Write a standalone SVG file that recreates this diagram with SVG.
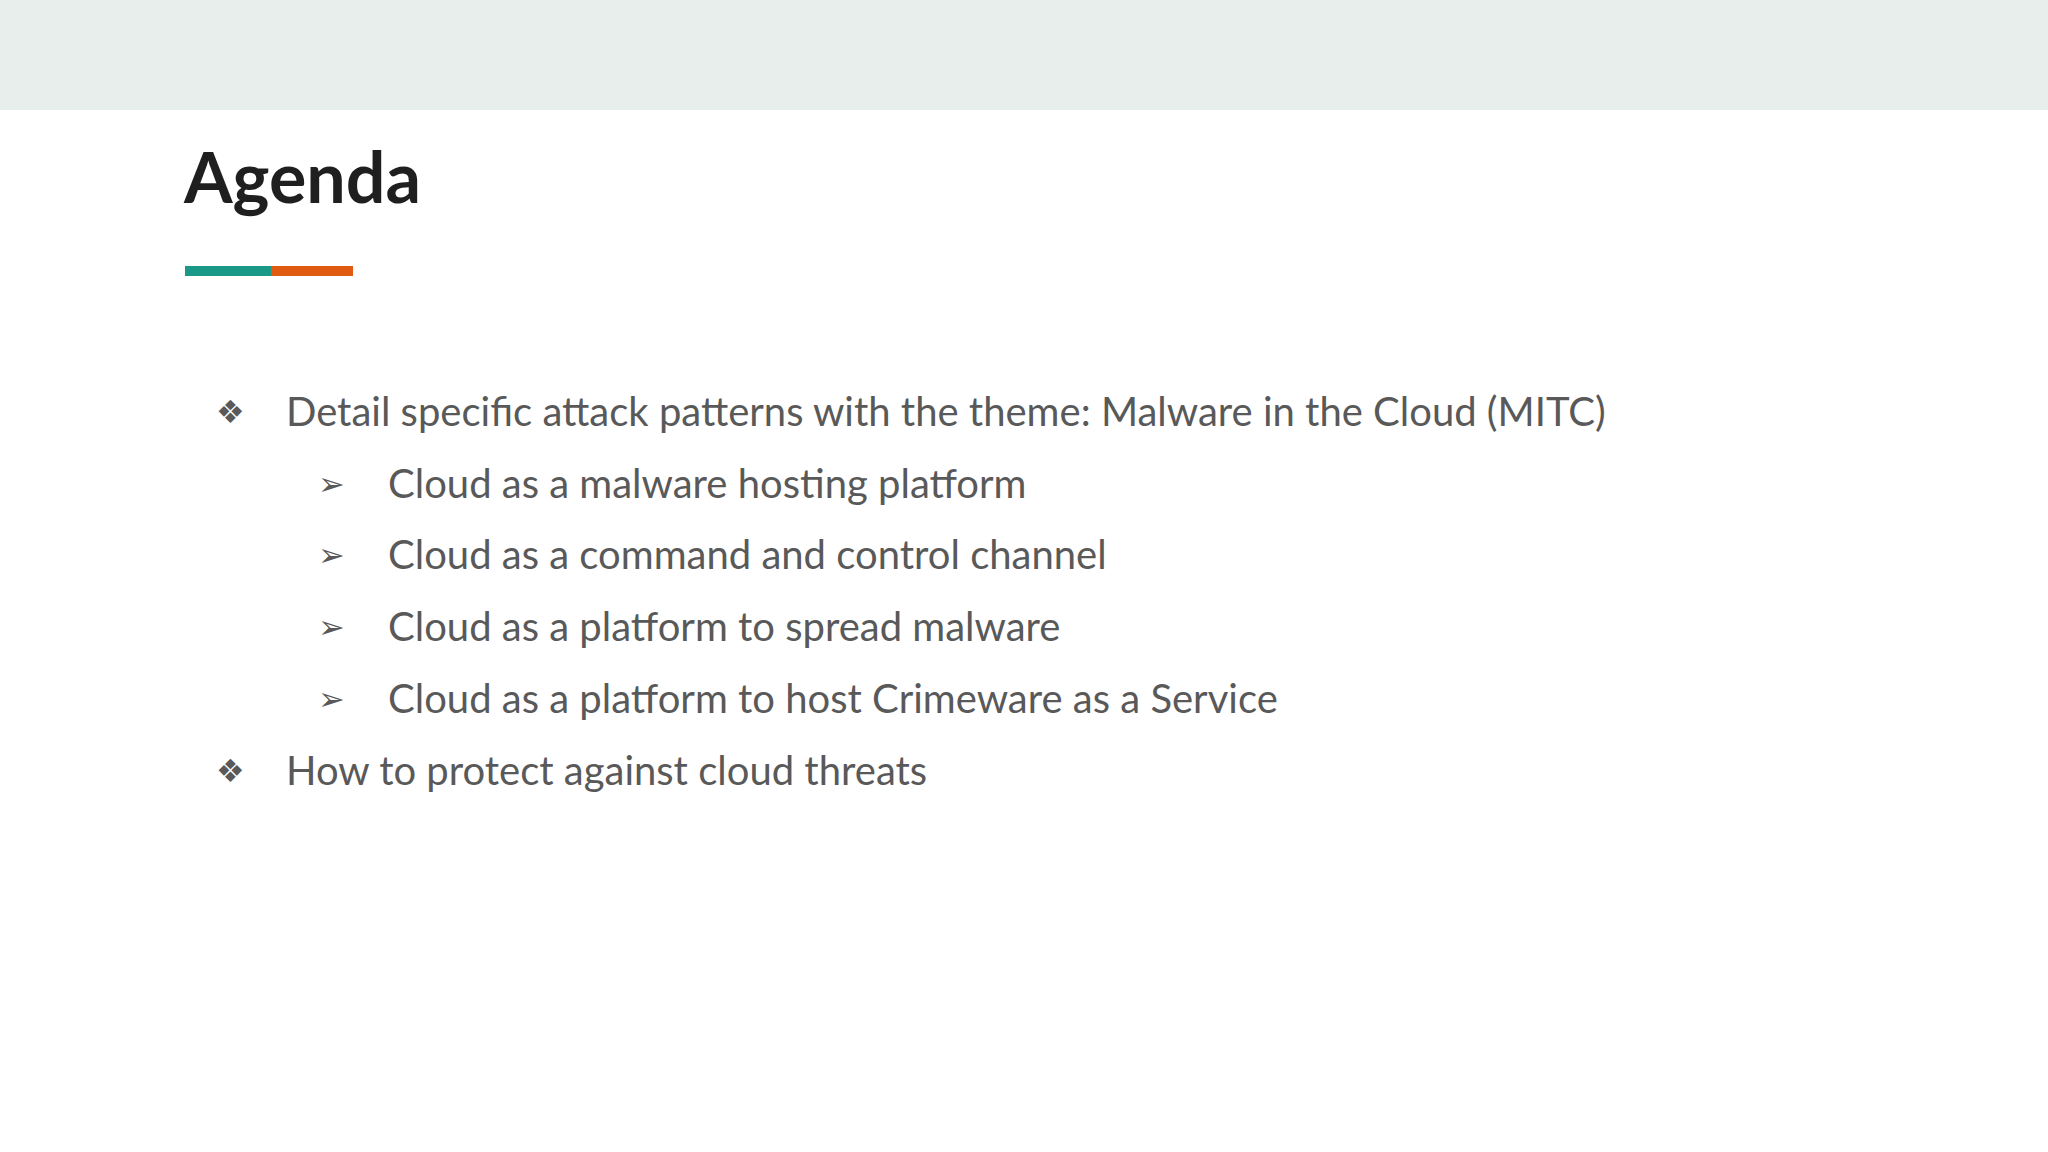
<svg xmlns="http://www.w3.org/2000/svg" width="2048" height="1152" viewBox="0 0 2048 1152">
<style>
.t{font-family:Lato,"Liberation Sans",sans-serif;font-size:40px;fill:#595959}
.g{font-family:"DejaVu Sans",sans-serif;font-size:32px;fill:#595959}
</style>
<rect width="2048" height="1152" fill="#ffffff"/>
<rect width="2048" height="110" fill="#e8eeec"/>
<g id="title"><text x="184" y="203" font-family="Lato,'Liberation Sans',sans-serif" font-weight="bold" font-size="70" fill="#1f1f1f">Agenda</text>
<rect x="185" y="266" width="86" height="10" fill="#1a9988"/><rect x="271" y="266" width="82" height="10" fill="#e05a12"/></g>
<g id="items">
<text class="g" x="216" y="423">❖</text><text class="t" x="286" y="426">Detail specific attack patterns with the theme: Malware in the Cloud (MITC)</text>
<text class="g" x="318" y="495">➢</text><text class="t" x="388" y="498">Cloud as a malware hosting platform</text>
<text class="g" x="318" y="566">➢</text><text class="t" x="388" y="569">Cloud as a command and control channel</text>
<text class="g" x="318" y="638">➢</text><text class="t" x="388" y="641">Cloud as a platform to spread malware</text>
<text class="g" x="318" y="710">➢</text><text class="t" x="388" y="713">Cloud as a platform to host Crimeware as a Service</text>
<text class="g" x="216" y="782">❖</text><text class="t" x="286" y="785">How to protect against cloud threats</text>
</g>
</svg>
